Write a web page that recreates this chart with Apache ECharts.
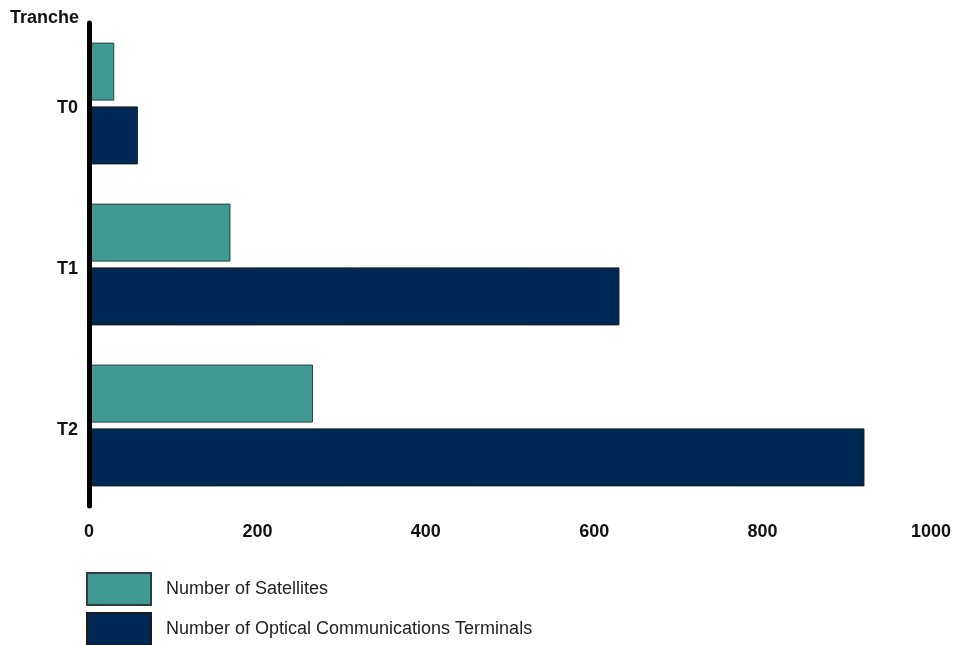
<!DOCTYPE html>
<html>
<head>
<meta charset="utf-8">
<script src="https://cdn.jsdelivr.net/npm/echarts@6/dist/echarts.min.js"></script>
<style>
  html, body { margin: 0; padding: 0; background: #fff; }
  #chart { width: 967px; height: 645px; }
</style>
</head>
<body>
<div id="chart"></div>
<script>
// 数据
var tranches = ['T0', 'T1', 'T2'];
var satellites = [30, 168, 266];
var terminals = [58, 630, 921];
var xTicks = [0, 200, 400, 600, 800, 1000];
var seriesNames = ['Number of Satellites', 'Number of Optical Communications Terminals'];

var font = '"Liberation Sans", Arial, sans-serif';
var chart = echarts.init(document.getElementById('chart'));

// 图例：每项单独一个，竖向排列
function legendItem(name, top) {
    return {
        left: 86,
        top: top,
        padding: 0,
        itemWidth: 64,
        itemHeight: 32,
        icon: 'rect',
        textStyle: { color: '#222', fontSize: 18, fontFamily: font, padding: [0, 0, 0, 10] },
        data: [name]
    };
}

var option = {
    backgroundColor: '#fff',
    animation: false,
    title: {
        text: 'Tranche',
        left: 5,
        top: 4,
        textStyle: { color: '#111', fontSize: 18, fontWeight: 'bold', fontFamily: font }
    },
    legend: [legendItem(seriesNames[0], 572), legendItem(seriesNames[1], 612)],
    grid: { left: 89, right: 36, top: 23, bottom: 139 },
    xAxis: {
        type: 'value',
        min: 0,
        max: 1000,
        interval: 200,
        axisLine: { show: false },
        axisTick: { show: false },
        splitLine: { show: false },
        axisLabel: {
            margin: 17,
            color: '#111',
            fontSize: 18,
            fontWeight: 'bold',
            fontFamily: font,
            formatter: function (v) { return xTicks.indexOf(v) >= 0 ? String(v) : ''; }
        }
    },
    yAxis: {
        type: 'category',
        inverse: true,
        data: tranches,
        z: 5,
        axisLine: { show: true, lineStyle: { color: '#000', width: 5 } },
        axisTick: { show: false },
        axisLabel: {
            margin: 11,
            formatter: function (v) { return '{t|' + v + '}'; },
            rich: {
                t: {
                    color: '#111',
                    fontSize: 18,
                    fontWeight: 'bold',
                    fontFamily: font,
                    padding: [10, 0, 0, 0]
                }
            }
        }
    },
    series: [
        {
            name: seriesNames[0],
            type: 'bar',
            data: satellites,
            barWidth: 58,
            barGap: '10%',
            itemStyle: { color: '#419a92', borderColor: '#2f3f3e', borderWidth: 1 }
        },
        {
            name: seriesNames[1],
            type: 'bar',
            data: terminals,
            barWidth: 58,
            barGap: '10%',
            itemStyle: { color: '#002855', borderColor: '#1a1a1a', borderWidth: 1 }
        }
    ]
};
chart.setOption(option);
</script>
</body>
</html>
